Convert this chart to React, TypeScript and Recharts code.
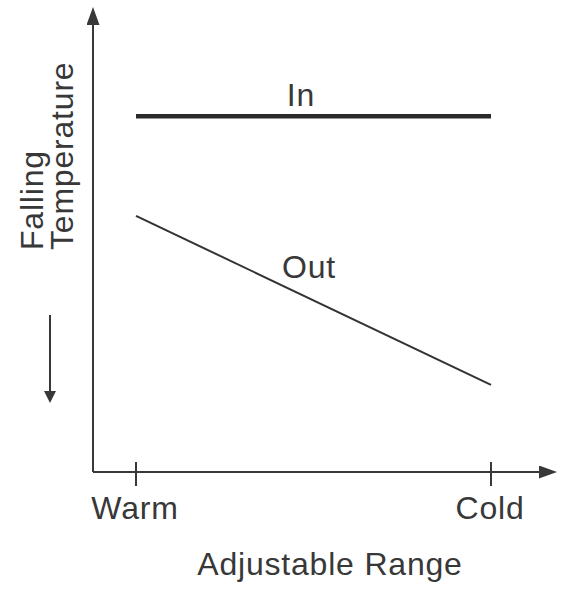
import { LineChart, Line, XAxis, YAxis } from "recharts";

// values (y axis is an unlabelled 0–100 scale)
const ranges = ["Warm", "Cold"];
const inTemp = [79.6, 79.6];
const outTemp = [57.3, 19.5];

const INK = "#383838";
const FONT = "'Liberation Sans', Arial, Helvetica, sans-serif";
const FONT_SIZE = 32;
const SPACING = 0.8;

const data = ranges.map((range, i) => ({
  range,
  in: inTemp[i],
  out: outTemp[i],
}));

if (typeof document !== "undefined") {
  document.body.style.margin = "0";
}

const RangeTick = ({ x, y, payload }: any) => (
  <g>
    <line x1={x} x2={x} y1={y - 10} y2={y + 14} stroke={INK} strokeWidth={2} />
    <text
      x={x - 1}
      y={y + 47}
      textAnchor="middle"
      fontFamily={FONT}
      fontSize={FONT_SIZE}
      letterSpacing={SPACING}
      fill={INK}
    >
      {payload.value}
    </text>
  </g>
);

export default function App() {
  const textProps = {
    fontFamily: FONT,
    fontSize: FONT_SIZE,
    letterSpacing: SPACING,
    fill: INK,
  };

  return (
    <div style={{ width: 577, height: 610, background: "#fff" }}>
      <LineChart
        width={577}
        height={610}
        data={data}
        margin={{ top: 25, right: 38, bottom: 0, left: 0 }}
      >
        <defs>
          <marker
            id="arrow"
            viewBox="0 0 18 13"
            markerWidth={18}
            markerHeight={13}
            refX={0}
            refY={6.5}
            markerUnits="userSpaceOnUse"
            orient="auto-start-reverse"
          >
            <path d="M0,0 L18,6.5 L0,13 z" fill={INK} />
          </marker>
          <marker
            id="arrowSmall"
            viewBox="0 0 12 14"
            markerWidth={12}
            markerHeight={14}
            refX={0}
            refY={6}
            markerUnits="userSpaceOnUse"
            orient="auto"
          >
            <path d="M0,0 L12,6 L0,12 z" fill={INK} />
          </marker>
        </defs>
        <XAxis
          dataKey="range"
          type="category"
          height={138}
          padding={{ left: 43, right: 48 }}
          axisLine={{ stroke: INK, strokeWidth: 2, markerEnd: "url(#arrow)" }}
          tickLine={false}
          tickSize={0}
          tickMargin={0}
          tick={<RangeTick />}
          interval={0}
        />
        <YAxis
          type="number"
          domain={[0, 100]}
          width={93}
          axisLine={{ stroke: INK, strokeWidth: 2, markerStart: "url(#arrow)" }}
          tickLine={false}
          tick={false}
        />
        <Line
          dataKey="in"
          stroke="#2a2a2a"
          strokeWidth={4.5}
          dot={false}
          activeDot={false}
          isAnimationActive={false}
        />
        <Line
          dataKey="out"
          stroke="#333"
          strokeWidth={2}
          dot={false}
          activeDot={false}
          isAnimationActive={false}
        />

        <text x={301} y={106} textAnchor="middle" {...textProps}>
          In
        </text>
        <text x={309} y={278} textAnchor="middle" {...textProps}>
          Out
        </text>
        <text x={330} y={575} textAnchor="middle" {...textProps}>
          Adjustable Range
        </text>
        <text x={43} y={250} transform="rotate(-90 43 250)" {...textProps}>
          Falling
        </text>
        <text x={73} y={250} transform="rotate(-90 73 250)" {...textProps}>
          Temperature
        </text>
        <line
          x1={50}
          y1={315}
          x2={50}
          y2={391}
          stroke={INK}
          strokeWidth={2}
          markerEnd="url(#arrowSmall)"
        />
      </LineChart>
    </div>
  );
}
